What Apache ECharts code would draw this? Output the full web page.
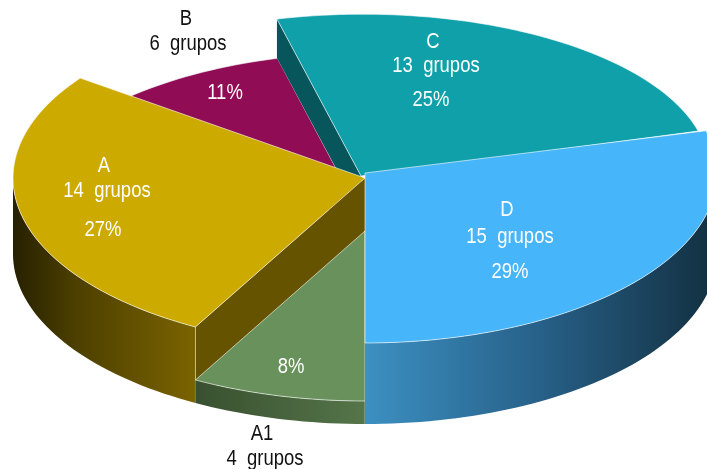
<!DOCTYPE html>
<html><head><meta charset="utf-8">
<style>html,body{margin:0;padding:0;background:#fff}#c{width:707px;height:469px}</style>
<script src="https://cdn.jsdelivr.net/npm/echarts@6/dist/echarts.min.js"></script>
</head><body><div id="c"></div>
<script>
// Data, clockwise from the bottom of the pie
const categories = ['A1', 'A', 'B', 'C', 'D'];
const groups = [4, 14, 6, 13, 15];
const percents = [8, 27, 11, 25, 29];

// Drawing layout, one entry per category
const geometry = [
  {apex:[365,231], c:[365,231], r:[352,170], depth:23, wall:0},
  {apex:[365,178], c:[365,178], r:[352,170], depth:76, wall:76},
  {apex:[365,223], c:[365,223], r:[352,170], depth:0,  wall:0},
  {apex:[361,176], c:[363,169.7], r:[346,155.5], depth:0, wall:39},
  {apex:[365,173], c:[365,173], r:[352,170], depth:81, wall:0}
];
const palette = [
  {top:'#69915c', wall:'#665300', side:[[0,'#38502f'],[1,'#55754a']]},
  {top:'#cdaa00', wall:'#665300', side:[[0,'#262000'],[0.35,'#4d4000'],[1,'#7a6300']]},
  {top:'#900d55', wall:'#900d55', side:[[0,'#900d55'],[1,'#900d55']]},
  {top:'#0fa0aa', wall:'#07565b', side:[[0,'#07565b'],[1,'#07565b']]},
  {top:'#46b5f9', wall:'#3b8fc4', side:[[0,'#3c90c2'],[0.5,'#276088'],[1,'#122f3f']]}
];
const zOrder = [8, 5, 1, 3, 10];
const labelSpots = [
  {pos:[[262,434],[265,459]], pct:[291,367], color:'#111'},
  {pos:[[104,166],[107,191]], pct:[103,230], color:'#fff'},
  {pos:[[186,19],[188,44]],  pct:[225,93],  color:'#111'},
  {pos:[[433,42],[436,66]],  pct:[431,100], color:'#fff'},
  {pos:[[507,210],[510,237]],pct:[510,272], color:'#fff'}
];
const FONT = '"Liberation Sans",sans-serif';
const FONT_SIZE = 22;
const TEXT_SQUEEZE = 0.84;
const STEP = 1.5;
const EDGE = 'rgba(255,255,255,0.6)';

function pt(g, deg, dy) {
  const t = deg * Math.PI / 180;
  return [g.c[0] - g.r[0] * Math.sin(t), g.c[1] + g.r[1] * Math.cos(t) + (dy || 0)];
}
function arc(g, a, b, dy) {
  const out = [], n = Math.max(2, Math.ceil(Math.abs(b - a) / STEP));
  for (let i = 0; i <= n; i++) out.push(pt(g, a + (b - a) * i / n, dy));
  return out;
}
function poly(points, fill, z2, stroke) {
  return {type:'polygon', shape:{points}, z2,
    style:{fill, stroke: stroke || null, lineWidth: stroke ? 1 : 0, lineJoin:'round'}};
}
function txt(s, p, color) {
  return {type:'text', z2:500, x:p[0], y:p[1], scaleX:TEXT_SQUEEZE,
    style:{text:s, fill:color, font: FONT_SIZE + 'px ' + FONT, align:'center', verticalAlign:'middle'}};
}

const chart = echarts.init(document.getElementById('c'), null, {renderer:'canvas'});
const total = percents.reduce((s, v) => s + v, 0);

chart.setOption({
  backgroundColor:'#fff',
  animation:false,
  series:[{
    type:'custom',
    coordinateSystem:'none',
    silent:true,
    clip:false,
    data: categories.map((n, i) => ({name:n, value:[percents[i], groups[i]]})),
    renderItem(params, api) {
      const i = params.dataIndex;
      let start = 0;
      for (let k = 0; k < i; k++) start += percents[k];
      const a = start / total * 360;
      const b = a + api.value(0) / total * 360;
      const g = geometry[i], col = palette[i], z = zOrder[i] * 10, children = [];
      const topArc = arc(g, a, b);

      // inner wall below the slice's leading edge
      if (g.wall) {
        const e = pt(g, a);
        children.push(poly([g.apex, e, [e[0], e[1] + g.wall], [g.apex[0], g.apex[1] + g.wall]], col.wall, z));
      }
      // outer rim, front half only
      if (g.depth) {
        let s0 = a, s1 = b;
        if (b <= 180) s1 = Math.min(b, 90); else s0 = Math.max(a, 270);
        const upper = arc(g, s0, s1), lower = arc(g, s1, s0, g.depth);
        children.push(poly(upper.concat(lower),
          new echarts.graphic.LinearGradient(0, 0, 1, 0,
            col.side.map(c => ({offset:c[0], color:c[1]}))), z + 1));
        if (i === 1 || i === 0) {
          const e = pt(g, a);
          children.push({type:'line', z2:z + 2, shape:{x1:e[0], y1:e[1], x2:e[0], y2:e[1] + g.depth},
            style:{stroke:'rgba(255,255,255,0.45)', lineWidth:1}});
        }
      }
      // top face
      children.push(poly([g.apex].concat(topArc), col.top, z + 3, EDGE));

      // labels
      const spot = labelSpots[i];
      children.push(txt(categories[i], spot.pos[0], spot.color));
      children.push(txt(api.value(1) + '  grupos', spot.pos[1], spot.color));
      children.push(txt(api.value(0) + '%', spot.pct, '#fff'));
      return {type:'group', children};
    }
  }]
});
</script></body></html>
